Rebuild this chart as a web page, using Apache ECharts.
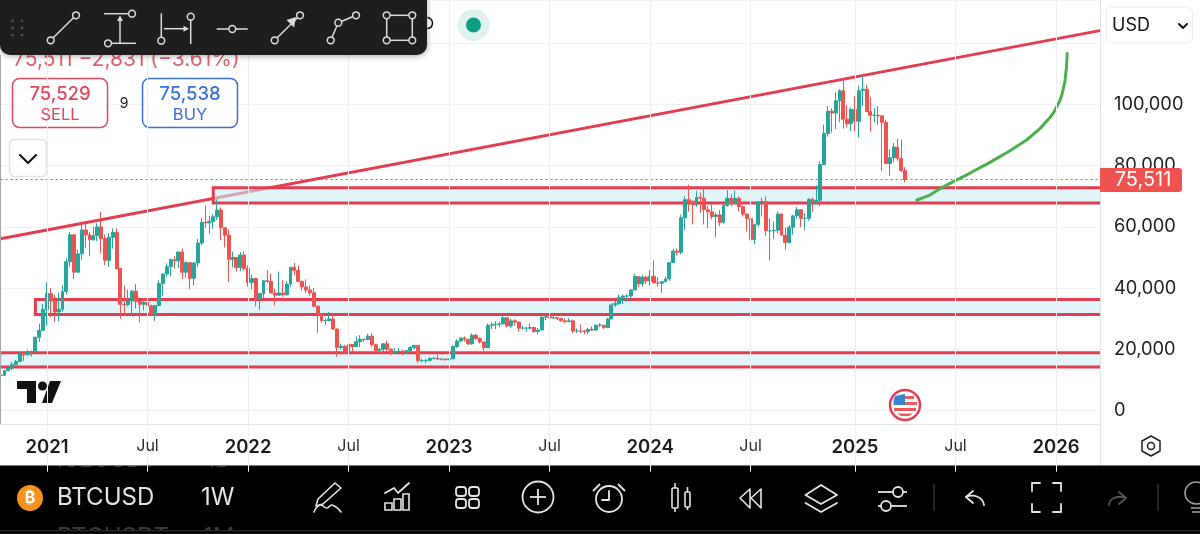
<!DOCTYPE html>
<html>
<head>
<meta charset="utf-8">
<title>BTCUSD 1W</title>
<style>
  html, body { margin: 0; padding: 0; background: #fff; overflow: hidden; }
  #chart { width: 1200px; height: 534px; }
</style>
<script src="https://cdn.jsdelivr.net/npm/echarts@6/dist/echarts.min.js"></script>
</head>
<body>
<div id="chart"></div>
<script>
// weekly bars from 2020-10-12, prices in thousands of USD
var firstWeek = '2020-10-12';
var weekCount = 286;

var opens = [
  11.4,11.5,13.0,13.8,15.0,16.0,18.7,18.2,19.2,19.2,23.9,26.2,
  33.0,38.2,35.8,32.2,33.1,38.9,48.6,57.4,45.2,51.2,59.0,57.4,55.8,57.1,60.0,56.2,49.1,56.6,58.2,46.4,34.7,34.6,35.8,39.0,35.6,34.7,35.3,34.2,31.5,34.3,41.5,44.6,47.0,49.3,48.9,51.8,45.2,48.3,43.2,48.2,54.7,61.5,61.3,61.8,63.3,65.5,59.7,57.3,49.4,50.0,46.7,50.8,
  46.4,41.8,43.1,36.3,38.2,42.4,42.2,38.4,37.7,38.4,37.8,41.3,46.8,45.8,42.2,40.4,39.4,38.5,34.1,31.3,29.4,29.4,29.9,26.6,20.6,21.0,19.3,21.6,20.8,22.5,23.3,23.2,24.3,21.5,19.6,20.0,21.8,20.1,18.8,19.3,19.4,19.2,19.6,20.6,21.3,16.3,16.3,16.4,17.0,17.1,16.8,16.8,
  16.6,16.9,20.9,22.7,23.7,23.3,21.8,24.6,23.5,22.4,20.5,27.9,28.0,28.2,28.3,30.3,27.6,29.3,28.9,26.9,26.9,26.9,27.1,25.8,26.3,30.5,30.6,30.3,30.3,30.1,29.3,29.1,29.3,26.0,26.0,25.9,25.8,26.5,26.3,27.9,27.9,27.1,29.9,34.5,35.0,37.0,37.4,37.4,39.4,43.8,41.4,43.6,
  42.3,43.9,41.7,41.6,42.1,43.0,48.3,52.1,51.7,63.0,68.9,68.4,67.2,69.6,69.4,65.6,64.9,63.4,63.9,61.5,67.0,69.3,67.7,69.3,66.6,64.2,62.7,55.8,60.8,68.2,68.2,58.7,58.7,58.9,64.2,57.3,54.9,59.9,63.6,65.6,62.8,62.8,69.0,68.0,68.7,80.4,90.5,97.8,97.2,101.2,104.5,95.2,93.7,
  98.4,94.5,104.5,105.0,97.7,96.5,96.5,96.3,94.2,80.7,82.6,86.1,82.4,78.4
];
var closes = [
  11.5,13.0,13.8,15.0,16.0,18.7,18.2,19.2,19.2,23.9,26.2,33.0,
  38.2,35.8,32.2,33.1,38.9,48.6,57.4,45.2,51.2,59.0,57.4,55.8,57.1,60.0,56.2,49.1,56.6,58.2,46.4,34.7,34.6,35.8,39.0,35.6,34.7,35.3,34.2,31.5,34.3,41.5,44.6,47.0,49.3,48.9,51.8,45.2,48.3,43.2,48.2,54.7,61.5,61.3,61.8,63.3,65.5,59.7,57.3,49.4,50.0,46.7,50.8,46.4,
  41.8,43.1,36.3,38.2,42.4,42.2,38.4,37.7,38.4,37.8,41.3,46.8,45.8,42.2,40.4,39.4,38.5,34.1,31.3,29.4,29.4,29.9,26.6,20.6,21.0,19.3,21.6,20.8,22.5,23.3,23.2,24.3,21.5,19.6,20.0,21.8,20.1,18.8,19.3,19.4,19.2,19.6,20.6,21.3,16.3,16.3,16.4,17.0,17.1,16.8,16.8,16.6,
  16.9,20.9,22.7,23.7,23.3,21.8,24.6,23.5,22.4,20.5,27.9,28.0,28.2,28.3,30.3,27.6,29.3,28.9,26.9,26.9,26.9,27.1,25.8,26.3,30.5,30.6,30.3,30.3,30.1,29.3,29.1,29.3,26.0,26.0,25.9,25.8,26.5,26.3,27.9,27.9,27.1,29.9,34.5,35.0,37.0,37.4,37.4,39.4,43.8,41.4,43.6,42.3,
  43.9,41.7,41.6,42.1,43.0,48.3,52.1,51.7,63.0,68.9,68.4,67.2,69.6,69.4,65.6,64.9,63.4,63.9,61.5,67.0,69.3,67.7,69.3,66.6,64.2,62.7,55.8,60.8,68.2,68.2,58.7,58.7,58.9,64.2,57.3,54.9,59.9,63.6,65.6,62.8,62.8,69.0,68.0,68.7,80.4,90.5,97.8,97.2,101.2,104.5,95.2,93.7,98.4,
  94.5,104.5,105.0,97.7,96.5,96.5,96.3,94.2,80.7,82.6,86.1,82.4,78.4,75.5
];
var highs = [
  11.7,13.3,14.1,15.9,16.5,18.9,19.4,19.9,19.6,24.2,28.4,34.8,
  41.9,40.0,37.8,38.5,41.0,49.7,58.3,57.5,52.6,61.8,61.0,58.4,60.0,61.2,64.9,57.5,58.0,59.5,59.6,46.6,40.8,39.5,39.4,41.3,35.7,36.6,35.3,34.6,34.5,42.6,44.7,48.1,49.7,50.5,52.0,52.9,48.8,48.3,48.5,56.0,62.9,67.0,63.7,64.2,69.0,66.3,59.7,59.2,51.9,50.0,51.8,52.0,
  47.5,44.4,43.4,38.3,42.5,45.8,44.7,39.8,45.4,42.6,42.3,47.0,48.2,47.4,42.4,42.9,40.8,40.0,34.2,31.4,30.2,32.2,31.5,26.8,21.8,21.5,22.4,21.7,24.2,24.6,23.4,25.1,25.2,21.8,20.5,21.9,22.8,20.2,20.4,20.4,19.9,19.7,21.0,21.4,21.4,17.0,16.8,17.4,17.4,18.4,17.0,16.9,
  17.0,21.3,23.3,23.8,24.2,23.4,25.2,25.1,23.9,22.6,28.4,28.9,29.2,29.0,31.0,30.5,30.0,29.8,29.1,27.6,27.2,28.4,27.4,27.0,31.4,31.3,31.5,31.8,30.4,30.3,30.0,30.2,29.7,26.8,28.1,26.4,27.0,27.5,28.1,28.6,27.9,30.3,35.0,35.9,37.9,37.9,38.0,39.5,44.7,43.9,44.3,44.0,
  45.9,49.0,43.6,42.2,43.8,48.5,52.8,52.9,64.0,70.0,73.8,68.5,71.7,71.3,72.7,66.8,67.2,64.7,65.5,67.7,72.0,70.6,71.9,70.0,67.0,64.3,63.8,61.0,68.3,69.5,70.0,62.7,61.8,65.0,64.5,59.8,60.6,64.0,66.5,65.7,64.5,69.4,69.5,73.6,81.5,93.4,99.5,98.8,104.0,105.0,108.3,99.8,99.0,
  102.7,106.0,109.3,106.5,102.5,98.8,99.5,96.5,95.0,85.3,87.4,88.8,88.5,79.5
];
var lows = [
  11.2,11.4,12.8,13.2,14.8,15.8,16.2,18.0,17.6,19.0,22.4,25.9,
  27.7,30.4,28.9,29.2,32.3,37.9,47.0,43.0,45.0,49.3,53.2,50.4,55.5,55.4,51.5,47.5,47.0,52.9,46.0,30.0,31.0,34.0,31.0,33.3,28.8,32.7,32.0,31.0,29.3,34.3,37.3,43.7,43.9,46.4,46.5,43.0,43.4,39.6,40.8,47.0,54.0,59.7,57.8,59.4,62.3,55.6,53.3,42.0,46.8,45.5,45.6,45.7,
  40.5,39.6,34.0,32.9,36.3,41.7,38.4,34.3,37.4,37.2,37.6,40.5,44.2,41.9,39.2,38.5,37.6,33.7,25.4,28.7,28.0,29.3,26.6,17.6,19.9,18.7,19.0,18.9,20.7,20.7,22.4,22.9,20.8,19.5,19.6,18.5,19.3,18.1,18.6,19.1,18.2,18.7,19.2,20.0,15.6,15.8,15.5,16.0,16.7,16.5,16.3,16.3,
  16.5,16.9,20.4,22.3,22.5,21.4,21.4,23.1,21.9,19.5,20.4,26.6,26.6,27.2,28.2,27.1,26.9,27.7,25.8,26.4,25.8,26.5,25.4,24.8,26.3,29.5,29.9,30.0,29.6,29.1,28.6,28.8,25.3,25.4,25.3,24.9,25.0,26.0,26.0,27.2,26.6,26.9,29.9,33.9,34.5,34.8,35.6,36.7,39.4,40.3,40.5,41.3,
  40.8,41.5,40.5,38.5,41.9,42.3,48.3,50.6,51.0,59.0,65.0,60.8,66.5,64.5,60.8,59.6,62.4,56.5,60.2,61.0,66.6,66.7,67.5,65.0,63.4,58.5,53.5,54.3,60.0,63.4,57.0,49.0,56.1,57.8,57.2,52.6,54.6,57.5,62.7,59.9,58.9,62.0,65.0,67.7,66.8,80.2,89.5,90.8,92.0,94.2,92.1,92.5,91.3,
  91.2,89.2,99.5,97.5,91.2,94.1,93.4,78.2,80.5,76.6,81.1,81.6,78.0,74.5
];

var lastPrice = 75.511;

// drawings on the chart, bar position + price
var trendBars = [0, 285];
var trendPrices = [56.1, 124.3];
var curveBars = [237.0, 240.4, 243.8, 249.0, 255.9, 261.1, 265.4, 268.9, 271.5, 272.5, 273.2, 274.0, 274.6, 275.3, 275.7, 275.9];
var curvePrices = [68.8, 70.4, 73.1, 76.4, 81.1, 84.9, 88.4, 92.2, 95.8, 97.6, 99.3, 101.2, 103.6, 107.5, 112.0, 116.7];
var zoneStartBars = [55, 9, 0];
var zoneTops = [72.8, 36.3, 18.9];
var zoneBottoms = [67.8, 31.4, 14.2];

var RED = '#e23d50';
var FONT = 'Inter, "Noto Sans", sans-serif';

var weeks = [];
for (var i = 0; i < weekCount; i++) {
    weeks.push(new Date(Date.parse(firstWeek) + i * 7 * 864e5).toISOString().slice(0, 10));
}

// tradingview puts the label on the first bar of the month
function isTick(index) {
    var d = weeks[index];
    var m = d.slice(5, 7);
    return (m == '01' || m == '07') && +d.slice(8, 10) <= 7;
}

var candles = [];
for (var i = 0; i < opens.length; i++) {
    candles.push([opens[i], closes[i], lows[i], highs[i]]);
}

var zones = [];
for (var i = 0; i < zoneTops.length; i++) {
    zones.push([
        { xAxis: zoneStartBars[i], yAxis: zoneTops[i] },
        { xAxis: weekCount - 1, yAxis: zoneBottoms[i] }
    ]);
}

function pairs(xs, ys) {
    return xs.map(function (x, k) { return [x, ys[k]]; });
}

// small helpers for the app chrome around the plot
function rect(x, y, w, h, fill, z, stroke, lw, r) {
    return { type: 'rect', silent: true, z: z, shape: { x: x, y: y, width: w, height: h, r: r || 0 },
        style: { fill: fill, stroke: stroke || null, lineWidth: lw || 0 } };
}
function line(x1, y1, x2, y2, color, w, z) {
    return { type: 'line', silent: true, z: z, shape: { x1: x1, y1: y1, x2: x2, y2: y2 },
        style: { stroke: color, lineWidth: w } };
}
function circle(cx, cy, r, fill, stroke, w, z) {
    return { type: 'circle', silent: true, z: z, shape: { cx: cx, cy: cy, r: r },
        style: { fill: fill, stroke: stroke, lineWidth: w } };
}
function poly(points, color, w, z, smooth) {
    return { type: 'polyline', silent: true, z: z, shape: { points: points, smooth: smooth || 0 },
        style: { fill: null, stroke: color, lineWidth: w, lineCap: 'round', lineJoin: 'round' } };
}
function shape(points, fill, z, stroke, w) {
    return { type: 'polygon', silent: true, z: z, shape: { points: points },
        style: { fill: fill, stroke: stroke || null, lineWidth: w || 0, lineJoin: 'round' } };
}
function label(text, x, y, size, color, z, align, weight) {
    return { type: 'text', silent: true, z: z,
        style: { text: text, x: x, y: y, fill: color, align: align || 'left', verticalAlign: 'middle',
            font: (weight || 400) + ' ' + size + 'px ' + FONT } };
}

var g = [];

// white band of the time axis, price scale edges
g.push(rect(0, 354.5, 2.4, 11, '#e0f4f9', 3));
g.push(line(0.5, 55, 0.5, 465, '#a8a8a8', 1, 16));
g.push(rect(1101, 0, 5, 465, '#fff', 15));
g.push(line(1100.5, 0, 1100.5, 465, '#e2e2e2', 1, 16));
g.push(rect(0, 424, 1100, 41, '#fff', 23));
g.push(line(0, 424.5, 1100, 424.5, '#e6e6e6', 1, 24));
g.push(shape([[1151, 436], [1160, 441], [1160, 451], [1151, 456], [1142, 451], [1142, 441]], null, 24, '#222', 1.5));
g.push(circle(1151, 446, 3.5, null, '#222', 1.5, 24));

// price tag and currency box
g.push(rect(1100, 168, 82, 24, '#ef5350', 30, null, 0, [0, 3, 3, 0]));
g.push(label('75,511', 1143, 180, 20, '#fff', 31, 'center'));
g.push(rect(1106.5, 7, 86, 36, '#fff', 30, '#ececec', 1, 6));
g.push(label('USD', 1112, 26, 18, '#111', 31));
g.push(poly([[1179, 24], [1183, 28], [1187, 24]], '#111', 2, 31));

// quote header
g.push(label('75,511 \u22122,831 (\u22123.61%)', 13, 59.5, 21, '#e0636c', 30));
g.push(rect(12.5, 78.5, 95, 49, '#fff', 30, '#e0475a', 1.5, 7));
g.push(label('75,529', 60, 94.5, 18.5, '#e0475a', 31, 'center', 500));
g.push(label('SELL', 60, 115.5, 16.5, '#e0475a', 31, 'center'));
g.push(label('9', 124, 103.5, 14, '#222', 31, 'center'));
g.push(rect(142.5, 78.5, 95, 49, '#fff', 30, '#3b6fd8', 1.5, 7));
g.push(label('75,538', 190, 94.5, 18.5, '#3b6fd8', 31, 'center', 500));
g.push(label('BUY', 190, 115.5, 16.5, '#3b6fd8', 31, 'center'));
g.push(rect(9.5, 139.5, 37, 37, '#fff', 30, '#e3e3e3', 1.5, 5));
g.push(poly([[20, 155], [28, 163], [36, 155]], '#111', 2, 31));

// status dot next to the toolbar
g.push(circle(473.5, 25, 16, '#e0f2ee', null, 0, 30));
g.push(circle(473.5, 25, 7.5, '#0e9d82', null, 0, 31));
g.push({ type: 'arc', silent: true, z: 30, shape: { cx: 427, cy: 23, r: 5.5, startAngle: -1.5, endAngle: 1.5 },
    style: { fill: null, stroke: '#111', lineWidth: 1.5 } });

// drawing toolbar
var T = 41, I = '#dcdcdc', TB = '#1e1e1e';
var tbar = rect(0, -10, 427, 65, TB, 40, null, 0, 10);
tbar.style.shadowBlur = 6;
tbar.style.shadowColor = 'rgba(0,0,0,0.35)';
tbar.style.shadowOffsetY = 1;
g.push(tbar);
[12.5, 22].forEach(function (x) {
    [20.7, 27.7, 35].forEach(function (y) { g.push(circle(x, y, 1.3, '#555', null, 0, T)); });
});
function node(x, y) { return circle(x, y, 3.4, TB, I, 1.5, T + 1); }
g.push(line(50.7, 40.3, 76, 15.3, I, 1.5, T), node(50.7, 40.3), node(76, 15.3));
g.push(line(104, 13.7, 132, 13.7, I, 1.5, T), line(108, 43.3, 136, 43.3, I, 1.5, T), line(120, 43, 120, 18, I, 1.5, T));
g.push(shape([[120, 15.5], [123, 21], [117, 21]], I, T), node(132, 13.7), node(108, 43.3));
g.push(line(161.3, 13.3, 161.3, 40.7, I, 1.5, T), line(190.7, 16.7, 190.7, 44, I, 1.5, T), line(164, 28.7, 187, 28.7, I, 1.5, T));
g.push(shape([[189, 28.7], [183.5, 25.7], [183.5, 31.7]], I, T), node(161.3, 40.7), node(190.7, 16.7));
g.push(line(216.7, 29, 247.7, 29, I, 1.5, T), node(232.3, 29));
g.push(line(274.7, 40.3, 300, 15.3, I, 1.5, T), shape([[296, 17], [286.5, 20], [294, 27.5]], I, T), node(274.7, 40.3), node(300, 15.3));
g.push(poly([[330.7, 40.3], [338.3, 22.7], [356, 15.3]], I, 1.5, T), node(330.7, 40.3), node(338.3, 22.7), node(356, 15.3));
g.push(line(386.7, 15.3, 412.3, 15.3, I, 1.5, T), line(412.3, 15.3, 412.3, 40.3, I, 1.5, T),
    line(412.3, 40.3, 386.7, 40.3, I, 1.5, T), line(386.7, 40.3, 386.7, 15.3, I, 1.5, T));
g.push(node(386.7, 15.3), node(412.3, 15.3), node(412.3, 40.3), node(386.7, 40.3));

// tradingview mark
g.push(shape([[17, 381], [36, 381], [36, 403], [27, 403], [27, 389], [17, 389]], '#111', 20));
g.push(circle(42.5, 386, 4.5, '#111', null, 0, 20));
g.push(shape([[50, 381], [61, 381], [52, 403], [42, 403]], '#111', 20));

// us flag event marker
g.push(circle(905, 405, 15, '#fff', RED, 2.5, 20));
g.push(shape([[895, 396], [905, 394], [905, 405], [893.5, 405], [893.5, 400]], '#3b82d0', 21));
g.push(rect(905, 396, 9, 3, '#ee5a5a', 21), rect(905, 402, 12, 3, '#ee5a5a', 21), rect(894, 408, 22, 3, '#ee5a5a', 21));
g.push(shape([[897, 413.5], [913, 413.5], [909, 416], [901, 416]], '#ee5a5a', 21));

// bottom bar
var B = 22, W = '#e4e4e4';
g.push(rect(0, 465, 1200, 69, '#000', B - 1));
g.push(line(0, 465.5, 1200, 465.5, '#777', 1, B + 2));
g.push(label('ISLUSDT', 57, 460, 24, '#444', B), label('1D', 205, 460, 24, '#444', B));
g.push(label('BTCUSDT', 57, 538, 24, '#3a3a3a', B), label('1M', 203, 538, 24, '#3a3a3a', B));
g.push(rect(0, 530, 1200, 4, '#0b0b0b', B), line(0, 530.5, 1200, 530.5, '#2a2a2a', 1, B));
g.push(circle(30, 498, 13, '#f7931a', null, 0, B));
g.push(label('\u20bf', 30, 498, 16, '#fff', B, 'center', 700));
g.push(label('BTCUSD', 57, 498, 24, W, B), label('1W', 201, 498, 24, W, B));
// pen
g.push(shape([[335, 483], [341, 488], [323, 504], [316, 506], [318, 499]], null, B, W, 1.6));
g.push(poly([[314, 512], [320, 505], [327, 508], [332, 505], [341, 512]], W, 1.6, B, 0.5));
// indicators
g.push(poly([[385, 493], [394, 488], [398, 493], [409, 483]], W, 1.8, B));
g.push(rect(385, 503, 7, 7, null, B, W, 1.6), rect(394, 499, 7, 11, null, B, W, 1.6), rect(403, 494, 6, 16, null, B, W, 1.6));
// layouts
g.push(rect(456, 487, 10, 9, null, B, W, 1.8, 3), rect(469, 487, 10, 9, null, B, W, 1.8, 3),
    rect(456, 499, 10, 9, null, B, W, 1.8, 3), rect(469, 499, 10, 9, null, B, W, 1.8, 3));
// add
g.push(circle(538, 497, 15.5, null, W, 1.8, B), line(530, 497, 546, 497, W, 1.8, B), line(538, 489, 538, 505, W, 1.8, B));
// alert
g.push(circle(609, 499, 13, null, W, 1.8, B), poly([[609, 491], [609, 500], [602, 500]], W, 1.8, B));
g.push(line(593, 491, 600, 484, W, 1.8, B), line(618, 484, 625, 491, W, 1.8, B));
// bar type
g.push(rect(672, 488, 6, 20, null, B, W, 1.6, 1), line(675, 483, 675, 488, W, 1.6, B), line(675, 508, 675, 512, W, 1.6, B));
g.push(rect(685, 492, 5, 15, null, B, W, 1.6, 1), line(687.5, 487, 687.5, 492, W, 1.6, B), line(687.5, 507, 687.5, 510, W, 1.6, B));
// replay
g.push(shape([[750, 489], [740, 498], [750, 508]], null, B, W, 1.6), shape([[761, 489], [751, 498], [761, 508]], null, B, W, 1.6));
// objects
g.push(shape([[821, 485], [837, 495], [821, 504], [805.5, 495]], null, B, W, 1.8));
g.push(poly([[805.5, 503], [821, 512], [837, 503]], W, 1.8, B));
// settings
g.push(line(878, 492, 893, 492, W, 1.8, B), circle(898, 492, 5, null, W, 1.8, B), line(903, 492, 907, 492, W, 1.8, B));
g.push(line(878, 506, 881, 506, W, 1.8, B), circle(886, 506, 5, null, W, 1.8, B), line(891, 506, 907, 506, W, 1.8, B));
g.push(line(934, 484, 934, 511, '#333', 1.5, B), line(1158, 484, 1158, 511, '#333', 1.5, B));
// undo, fullscreen, redo
g.push(poly([[973, 491], [966, 497], [973, 503]], W, 1.8, B), poly([[966, 497], [978, 497], [984, 505]], W, 1.8, B, 0.6));
g.push(poly([[1032, 491], [1032, 483], [1040, 483]], W, 1.8, B), poly([[1053, 483], [1061, 483], [1061, 491]], W, 1.8, B));
g.push(poly([[1032, 504], [1032, 512], [1040, 512]], W, 1.8, B), poly([[1053, 512], [1061, 512], [1061, 504]], W, 1.8, B));
g.push(poly([[1119, 492], [1126, 498], [1119, 504]], '#555', 1.8, B), poly([[1126, 498], [1114, 498], [1109, 505]], '#555', 1.8, B, 0.6));
// bulb, cut by the window edge
g.push(circle(1196, 493, 11, null, '#999', 1.6, B), line(1191, 508, 1200, 508, '#999', 1.6, B), line(1192, 512, 1200, 512, '#999', 1.6, B));

var myChart = echarts.init(document.getElementById('chart'));

var option = {
    animation: false,
    backgroundColor: '#fff',
    textStyle: { fontFamily: FONT },
    // price axis runs from -20 so ticks stay on multiples of 20, its low end sits under the time band
    grid: { left: 0.6, right: 97.6, top: 0, bottom: 534 - 471.7, containLabel: false },
    xAxis: [
        {
            type: 'category',
            data: weeks,
            z: 30,
            offset: -34,
            boundaryGap: false,
            axisLine: { show: false },
            axisTick: { show: false },
            axisLabel: {
                margin: 0,
                interval: function (index) { return isTick(index); },
                formatter: function (value) {
                    return value.slice(5, 7) == '01' ? '{y|' + value.slice(0, 4) + '}' : '{m|Jul}';
                },
                rich: {
                    y: { fontFamily: FONT, fontSize: 18.5, fontWeight: 600, color: '#1c1c1c' },
                    m: { fontFamily: FONT, fontSize: 16, color: '#2c2c2c' }
                }
            },
            splitLine: {
                show: true,
                interval: function (index) { return isTick(index); },
                lineStyle: { color: '#efefef', width: 1 }
            }
        },
        // hidden bar-position axis for the hand drawn lines, same span as the bars
        { type: 'value', min: 0, max: weekCount - 1, show: false, splitLine: { show: false } }
    ],
    yAxis: {
        type: 'value',
        position: 'right',
        min: -20,
        max: 134.15,
        interval: 20,
        axisLine: { show: false },
        axisTick: { show: false },
        axisLabel: {
            margin: 11.6,
            fontFamily: FONT,
            fontSize: 18.3,
            color: '#222',
            formatter: function (v) {
                if (v < 0 || v > 100) return '';
                return (v * 1000).toLocaleString('en-US');
            }
        },
        splitLine: { show: true, lineStyle: { color: '#f1f1f1', width: 1 } }
    },
    series: [
        {
            name: 'trend',
            type: 'line',
            xAxisIndex: 1,
            z: 0,
            data: pairs(trendBars, trendPrices),
            symbol: 'none',
            lineStyle: { color: RED, width: 3 }
        },
        {
            name: 'BTCUSD',
            type: 'candlestick',
            data: candles,
            barWidth: 3.4,
            itemStyle: {
                color: '#26a69a',
                color0: '#ef5350',
                borderColor: '#26a69a',
                borderColor0: '#ef5350',
                borderWidth: 1
            },
            markArea: {
                silent: true,
                z: 1,
                itemStyle: { color: 'rgba(203,237,245,0.6)', borderColor: RED, borderWidth: 3 },
                data: zones
            },
            markLine: {
                silent: true,
                symbol: 'none',
                label: { show: false },
                lineStyle: { color: '#e0505a', type: [2, 3], width: 1 },
                data: [{ yAxis: lastPrice }]
            }
        },
        {
            name: 'projection',
            type: 'line',
            xAxisIndex: 1,
            z: 5,
            data: pairs(curveBars, curvePrices),
            symbol: 'none',
            smooth: false,
            lineStyle: { color: '#4caf50', width: 3, join: 'round', cap: 'round' }
        }
    ],
    graphic: { elements: g }
};
myChart.setOption(option);
</script>
</body>
</html>
